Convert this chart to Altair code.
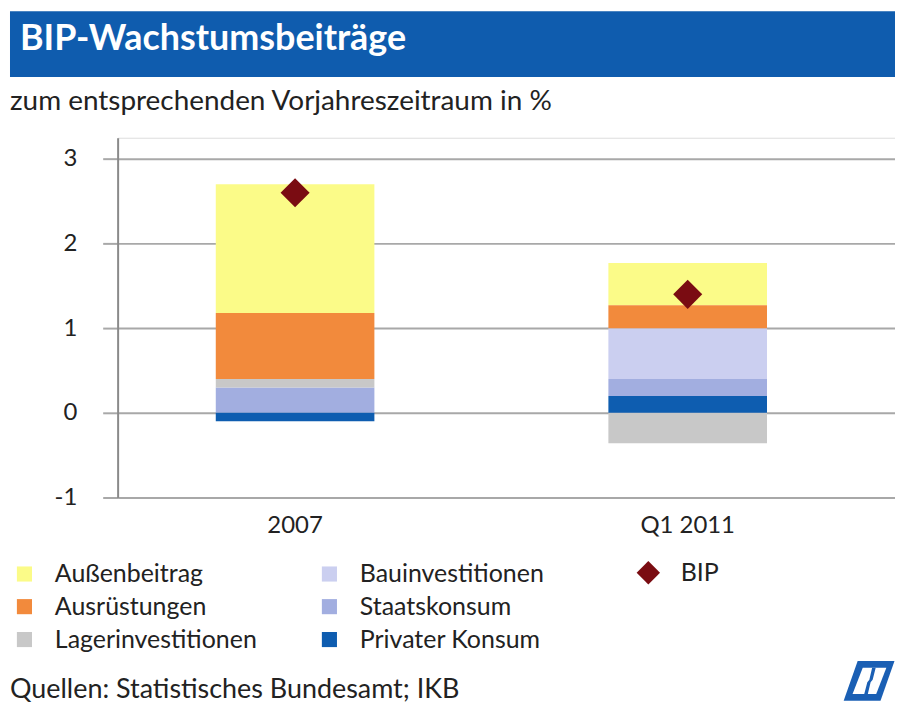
import altair as alt
import pandas as pd

# ---- data ----
categories = ["2007", "Q1 2011"]
components = ["Außenbeitrag", "Ausrüstungen", "Lagerinvestitionen",
              "Bauinvestitionen", "Staatskonsum", "Privater Konsum"]
stack_rank = {"Privater Konsum": 1, "Staatskonsum": 2, "Lagerinvestitionen": 3,
              "Bauinvestitionen": 4, "Ausrüstungen": 5, "Außenbeitrag": 6}
aussenbeitrag = [1.52, 0.50]
bauinvestitionen = [0.00, 0.60]
ausruestungen = [0.78, 0.27]
staatskonsum = [0.30, 0.20]
lagerinvestitionen = [0.10, -0.36]
privater_konsum = [-0.10, 0.20]
bip = [2.6, 1.4]
colors = ["#fbfb88", "#f28a3c", "#c8c8c8", "#cbcff0", "#a2aee0", "#0e5db0"]

title_text = "BIP-Wachstumsbeiträge"
subtitle_text = "zum entsprechenden Vorjahreszeitraum in %"
footer_text = "Quellen: Statistisches Bundesamt; IKB"
y_ticks = [-1, 0, 1, 2, 3]

series = {
    "Außenbeitrag": aussenbeitrag,
    "Bauinvestitionen": bauinvestitionen,
    "Ausrüstungen": ausruestungen,
    "Staatskonsum": staatskonsum,
    "Lagerinvestitionen": lagerinvestitionen,
    "Privater Konsum": privater_konsum,
}
rows = []
for comp, vals in series.items():
    for cat, v in zip(categories, vals):
        rows.append({"cat": cat, "comp": comp, "value": v, "rank": stack_rank[comp]})
bars_df = pd.DataFrame(rows)
bip_df = pd.DataFrame({"cat": categories, "value": bip, "series": ["BIP"] * len(bip)})

FONT = "Lato"

x_enc = alt.X("cat:N", sort=categories, title=None,
              scale=alt.Scale(paddingInner=0.596, paddingOuter=0.288, align=0.434),
              axis=alt.Axis(labelAngle=0, ticks=False, domain=False, grid=False,
                            labelPadding=16, labelFontSize=24, labelColor="#222",
                            labelFont=FONT))
y_scale = alt.Scale(domain=[-1, 3.25], nice=False, zero=False)

bars = alt.Chart(bars_df).mark_bar().encode(
    x=x_enc,
    y=alt.Y("value:Q", stack="zero", scale=y_scale, title=None,
            axis=alt.Axis(values=y_ticks, grid=True, gridColor="#a8a8a8", gridWidth=2,
                          domainColor="#8a8a8a", domainWidth=2,
                          tickColor="#a8a8a8", tickWidth=2, tickSize=15,
                          labelExpr="datum.value < 0 ? '-' + abs(datum.value) : '' + datum.value",
                          labelPadding=26, labelFontSize=24, labelColor="#222",
                          labelFont=FONT)),
    color=alt.Color("comp:N", scale=alt.Scale(domain=components, range=colors),
                    legend=alt.Legend(title=None, orient="none", legendX=-106, legendY=425,
                                      columns=2, columnPadding=60, rowPadding=7,
                                      symbolType="square", symbolSize=230,
                                      symbolStrokeWidth=0, labelOffset=18,
                                      labelFontSize=25, labelFont=FONT, labelColor="#222",
                                      labelLimit=400)),
    order=alt.Order("rank:Q"),
)

points = alt.Chart(bip_df).mark_point(filled=True, color="#7a0c12", opacity=1, size=850).encode(
    x=alt.X("cat:N", sort=categories),
    y=alt.Y("value:Q", scale=y_scale),
    shape=alt.Shape("series:N", scale=alt.Scale(domain=["BIP"], range=["diamond"]),
                    legend=alt.Legend(title=None, orient="none", legendX=520, legendY=424,
                                      symbolSize=550, symbolFillColor="#7a0c12",
                                      symbolStrokeWidth=0, labelOffset=20,
                                      labelFontSize=25, labelFont=FONT, labelColor="#222")),
)

one = pd.DataFrame({"t": [title_text]})
banner = alt.Chart(one).mark_rect(color="#0f5cae").encode(
    x=alt.value(-108), x2=alt.value(780), y=alt.value(-127), y2=alt.value(-61))
title = alt.Chart(pd.DataFrame({"t": [title_text]})).mark_text(
    align="left", baseline="alphabetic", font=FONT, fontSize=36, fontWeight="bold",
    color="white").encode(text="t:N", x=alt.value(-98), y=alt.value(-88))
subtitle = alt.Chart(pd.DataFrame({"t": [subtitle_text]})).mark_text(
    align="left", baseline="alphabetic", font=FONT, fontSize=28, color="#222").encode(
    text="t:N", x=alt.value(-108), y=alt.value(-28))
footer = alt.Chart(pd.DataFrame({"t": [footer_text]})).mark_text(
    align="left", baseline="alphabetic", font=FONT, fontSize=27, color="#222").encode(
    text="t:N", x=alt.value(-108), y=alt.value(562))

logo_outer = "M -0.45 -0.78 L 1 -0.78 L 0.45 0.78 L -1 0.78 Z"
logo_inner = "M -0.25 -0.52 L 0.68 -0.52 L 0.28 0.52 L -0.65 0.52 Z"
logo_mid = "M 0.12 -0.52 L 0.26 -0.52 L 0.14 -0.05 L 0.06 0.05 L -0.05 0.52 L -0.19 0.52 L -0.07 0.05 L 0.01 -0.05 Z"
logo_df = pd.DataFrame({"t": ["logo"]})
logo1 = alt.Chart(logo_df).mark_point(shape=logo_outer, filled=True, color="#1a5fb4",
                                      opacity=1, size=2600).encode(
    x=alt.value(754), y=alt.value(545))
logo2 = alt.Chart(logo_df).mark_point(shape=logo_inner, filled=True, color="white",
                                      opacity=1, size=2600).encode(
    x=alt.value(754), y=alt.value(545))
logo3 = alt.Chart(logo_df).mark_point(shape=logo_mid, filled=True, color="#1a5fb4",
                                      opacity=1, size=2600).encode(
    x=alt.value(754), y=alt.value(545))

chart = alt.layer(bars, points, banner, title, subtitle, footer, logo1, logo2, logo3).resolve_scale(
    color="independent", shape="independent"
).properties(
    width=780, height=361,
    autosize=alt.AutoSizeParams(type="none"),
    padding={"left": 110, "top": 129, "right": 0, "bottom": 205},
).configure_view(stroke=None).configure(background="white")

chart.save("out.html", embed_options={"renderer": "svg", "actions": False})
